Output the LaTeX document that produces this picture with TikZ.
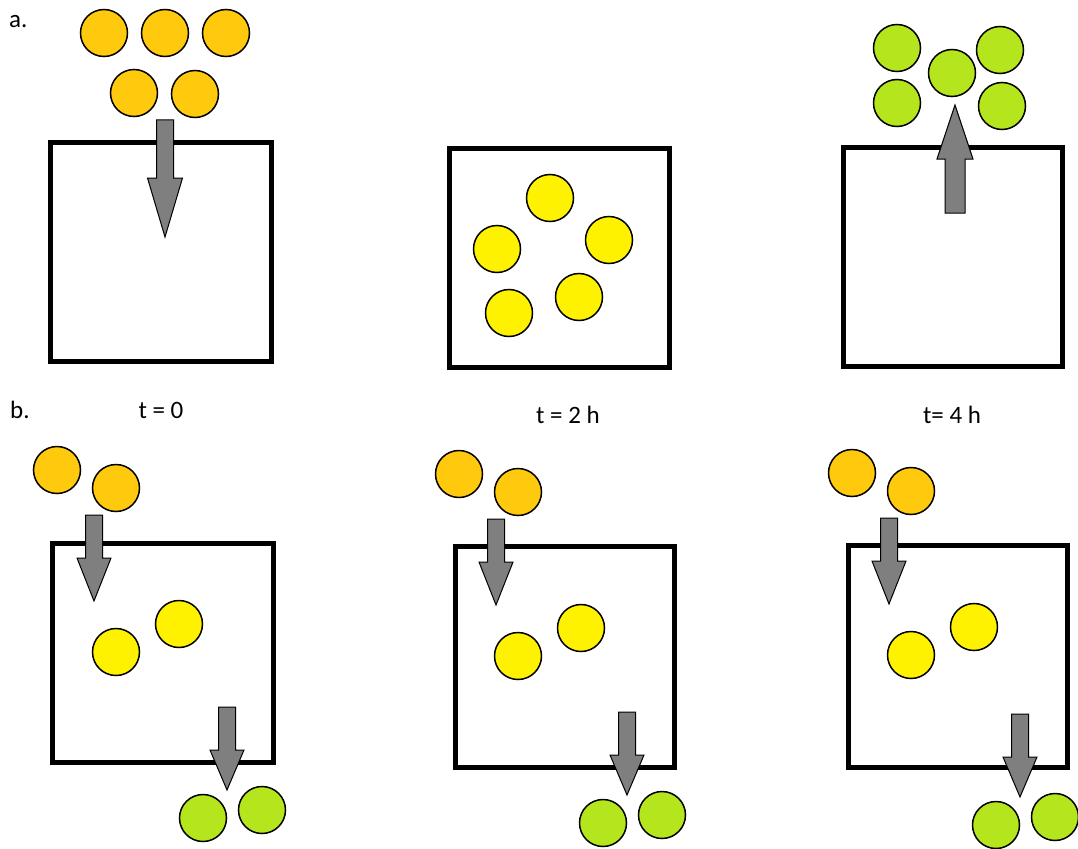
\documentclass[tikz,border=0pt]{standalone}
\usepackage{fontspec}
\setmainfont{Carlito}
\usetikzlibrary{calc}

\definecolor{influx}{HTML}{FFC90E}
\definecolor{inside}{HTML}{FFF200}
\definecolor{efflux}{HTML}{B5E61D}
\definecolor{pipe}{HTML}{7F7F7F}

\tikzset{
  cell/.style={draw=black,line width=5pt},
  bead/.style={draw=black,line width=1.5pt},
  flow/.style={draw=black,fill=pipe,line width=1pt,line join=miter},
  caption/.style={font=\fontsize{25}{29}\selectfont,inner sep=0pt}
}

% arrow: x, start of shaft, base of head, tip, shaft half width, head half width
\newcommand{\flowarrow}[6]{%
  \draw[flow] (#1-#5,#2)--(#1+#5,#2)--(#1+#5,#3)--(#1+#6,#3)--(#1,#4)--(#1-#6,#3)--(#1-#5,#3)--cycle;}

\begin{document}
\begin{tikzpicture}[x=1pt,y=-1pt]
\useasboundingbox (0,0) rectangle (1078,848);

% a.
\node[caption,anchor=west] (la) at (9,22) {a.};
\draw[cell] (50,142) rectangle (271,361);
\draw[cell] (449,148) rectangle (669,367);
\draw[cell] (843,147) rectangle (1062,366);
\foreach \p in {(104,33),(165,33),(226,33),(134,93),(195,94)}
  \draw[bead,fill=influx] \p circle (23.5);
\flowarrow{165}{120}{178}{237}{8.5}{17.5}
\foreach \p in {(550,198),(497,249),(609,240),(509,313),(579,297)}
  \draw[bead,fill=inside] \p circle (23.5);
\foreach \p in {(897,48),(952,73),(1000,50),(897,103),(1002,106)}
  \draw[bead,fill=efflux] \p circle (23.5);
\flowarrow{955}{213}{159}{105}{10}{18}

% b.
\node[caption,anchor=west] (lb) at (10,410) {b.};
\node[caption] (t0) at (161,410) {t = 0};
\node[caption] (t2) at (568,415) {t = 2 h};
\node[caption] (t4) at (952,415) {t= 4 h};

\draw[cell] (52,543) rectangle (273,762);
\draw[cell] (455,546) rectangle (674,767);
\draw[cell] (848,545) rectangle (1067,767);

\foreach \dx/\dy in {0/0,402/4,795/3}{
  \begin{scope}[shift={(\dx,\dy)}]
    \draw[bead,fill=influx] (57,470) circle (23.5);
    \draw[bead,fill=influx] (116,488) circle (23.5);
    \flowarrow{94}{515}{558}{601}{8.5}{17}
    \draw[bead,fill=inside] (116,652) circle (23.5);
    \draw[bead,fill=inside] (179,624) circle (23.5);
  \end{scope}}

\foreach \dx/\dy in {0/0,400/5,793/7}{
  \begin{scope}[shift={(\dx,\dy)}]
    \flowarrow{227}{707}{750}{790}{8.5}{17}
    \draw[bead,fill=efflux] (203,818) circle (23.5);
    \draw[bead,fill=efflux] (262,810) circle (23.5);
  \end{scope}}
\end{tikzpicture}
\end{document}
